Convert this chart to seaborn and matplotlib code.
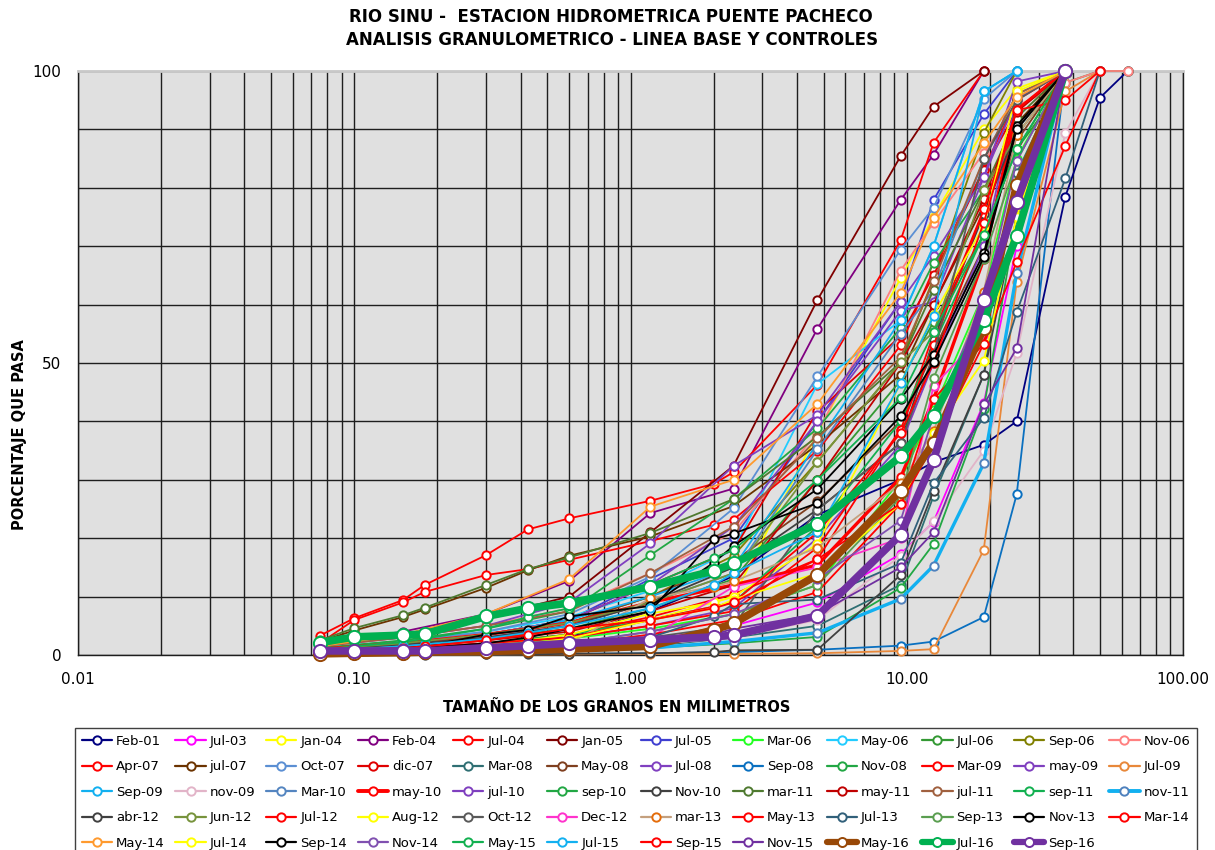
import matplotlib
matplotlib.use("Agg")
import matplotlib.pyplot as plt
from matplotlib.lines import Line2D
from matplotlib.ticker import FixedLocator, FixedFormatter, NullFormatter
import seaborn as sns

# Sieve openings (mm)
SIEVES_MM = [0.075, 0.1, 0.15, 0.18, 0.3, 0.425, 0.6, 1.18, 2.0, 2.36,
             4.75, 9.5, 12.5, 19, 25, 37.5, 50, 63]
N = None

# Percent passing per campaign, one value per sieve (None = sieve not used)
feb_01 = [0.4, N, 0.8, N, 1.5, N, 3.0, 7.5, N, 13.5, 24.0, 30.0, 33.0, 36.0, 40.0, 78.5, 95.4, 100]
jul_03 = [0.2, N, 0.4, N, 0.8, N, 1.2, 2.5, N, 5.0, 9.0, 17.3, 22.8, 43.1, 70.0, 100, N, N]
jan_04 = [0.5, N, 1.0, N, 2.0, N, 3.5, 6.0, N, 10.0, 38.0, 64.5, 75.0, 90.0, 97.0, 100, N, N]
feb_04 = [2.0, N, 4.0, N, 7.0, N, 12.7, 24.3, N, 28.5, 55.9, 77.9, 85.7, 100, N, N, N, N]
jul_04 = [3.3, 6.3, 9.4, 12.0, 17.1, 21.5, 23.4, 26.4, 29.3, 31.3, 46.3, 71.0, 87.7, 100, N, N, N, N]
jan_05 = [1.8, N, 3.5, N, 6.5, N, 10.0, 21.0, N, 32.4, 60.8, 85.4, 93.9, 100, N, N, N, N]
jul_05 = [1.0, N, 2.0, N, 3.5, N, 6.0, 13.0, N, 20.0, 40.0, 60.5, 77.9, 92.6, 100, N, N, N]
mar_06 = [0.5, N, 1.0, N, 1.8, N, 2.8, 4.5, N, 7.0, 12.0, 30.0, 42.0, 62.0, 85.0, 100, N, N]
may_06 = [1.2, N, 2.4, N, 4.0, N, 6.5, 11.0, N, 18.0, 46.4, 57.3, 70.0, 96.5, 100, N, N, N]
jul_06 = [0.8, N, 1.5, N, 2.8, N, 4.5, 8.0, N, 13.0, 30.0, 47.0, 57.0, 72.0, 86.6, 98.0, 100, 100]
sep_06 = [1.0, N, 2.0, N, 3.5, N, 5.5, 10.0, N, 17.0, 33.1, 50.1, 64.5, 89.4, 100, N, N, N]
nov_06 = [1.5, N, 3.0, N, 5.0, N, 8.0, 14.0, N, 21.0, 38.0, 65.8, 74.0, 86.0, 94.0, 98.0, 100, 100]
apr_07 = [2.0, 6.0, 9.0, 10.8, 13.7, 14.7, 16.3, 19.5, 22.3, 23.2, 35.0, 53.0, 66.0, 83.2, 95.0, 100, N, N]
jul_07 = [2.3, 4.2, 6.5, 7.8, 11.5, 14.5, 17.0, 20.3, N, 25.5, 36.0, 48.0, 60.0, 77.0, 91.0, 100, N, N]
oct_07 = [1.0, N, 2.2, N, 4.0, N, 7.0, 13.4, N, 25.1, 47.7, 69.4, 76.6, 95.2, 100, N, N, N]
dic_07 = [0.8, N, 1.8, N, 3.5, N, 6.0, 12.0, N, 18.0, 41.7, 54.6, 65.0, 83.0, 93.3, 100, N, N]
mar_08 = [0.1, N, 0.2, N, 0.4, N, 0.8, 1.5, N, 3.0, 5.0, 12.0, 27.2, 48.0, 82.5, 100, N, N]
may_08 = [1.0, N, 2.0, N, 3.5, N, 5.5, 10.0, N, 16.0, 26.3, 40.0, 52.0, 70.0, 88.0, 100, N, N]
jul_08 = [1.5, N, 3.0, N, 5.0, N, 9.0, 19.1, N, 32.4, 41.1, 60.5, 68.4, 81.8, 95.2, 100, N, N]
sep_08 = [0.0, N, 0.0, N, 0.1, N, 0.2, 0.3, N, 0.5, 0.9, 1.6, 2.3, 6.5, 27.5, 100, N, N]
nov_08 = [1.2, N, 2.5, N, 4.5, N, 7.5, 17.1, N, 26.7, 38.8, 56.0, 67.1, 79.6, 89.0, 100, N, N]
mar_09 = [0.5, N, 1.0, N, 2.0, N, 3.5, 6.5, N, 10.4, 16.4, 38.6, 55.0, 76.3, 93.3, 100, N, N]
may_09 = [1.0, N, 2.0, N, 3.5, N, 6.0, 12.0, N, 22.0, 40.0, 58.9, 60.5, 81.8, 98.2, 100, N, N]
jul_09 = [0.0, N, 0.0, N, 0.1, N, 0.1, 0.2, N, 0.2, 0.3, 0.7, 1.0, 18.0, 63.9, 96.5, 100, N]
sep_09 = [1.0, N, 2.0, N, 3.5, N, 6.0, 10.0, N, 15.0, 36.3, 57.3, 70.0, 96.5, 100, N, N, N]
nov_09 = [0.2, N, 0.4, N, 0.7, N, 1.0, 1.8, N, 3.0, 6.0, 17.0, 22.9, 35.0, 51.7, 89.4, 100, N]
mar_10 = [0.8, N, 1.6, N, 3.0, N, 5.0, 9.0, N, 14.0, 35.2, 55.0, 62.5, 84.9, 96.0, 100, N, N]
may_10 = [1.0, N, 2.0, N, 3.5, N, 5.5, 9.0, N, 12.0, 15.4, 30.4, 43.8, 67.8, 93.3, 100, N, N]
jul_10 = [0.5, N, 1.0, N, 2.0, N, 3.0, 5.0, N, 8.0, 20.0, 36.0, 50.0, 70.0, 95.2, 100, N, N]
sep_10 = [0.1, N, 0.2, N, 0.4, N, 0.7, 1.2, N, 2.0, 3.1, 11.5, 19.0, 42.2, 74.9, 100, N, N]
nov_10 = [0.8, N, 1.8, N, 3.0, N, 5.0, 9.0, N, 15.0, 24.9, 36.3, 54.0, 75.5, 90.0, 100, N, N]
mar_11 = [2.5, 4.6, 6.8, 8.1, 12.0, 14.7, 16.7, 20.9, N, 26.7, 37.4, 50.1, 62.5, 79.6, 92.0, 100, N, N]
may_11 = [0.6, N, 1.2, N, 2.5, N, 4.0, 7.5, N, 12.0, 30.0, 50.0, 60.0, 78.0, 93.0, 100, N, N]
jul_11 = [1.5, N, 3.0, N, 5.0, N, 7.5, 14.0, N, 22.0, 37.1, 51.0, 64.0, 84.9, 96.0, 100, N, N]
sep_11 = [0.5, N, 1.0, N, 2.0, N, 3.5, 6.0, N, 9.0, 22.0, 40.0, 53.0, 72.0, 86.6, 100, N, N]
nov_11 = [0.1, N, 0.2, N, 0.4, N, 0.7, 1.2, N, 2.3, 3.8, 9.6, 15.3, 32.8, 65.4, 100, N, N]
abr_12 = [0.0, 0.0, 0.0, 0.0, 0.1, 0.1, 0.2, 0.3, 0.5, 0.8, 0.9, 13.7, 28.1, 48.0, 75.0, 100, N, N]
jun_12 = [1.0, N, 2.0, N, 3.5, N, 5.5, 9.0, N, 14.0, 33.1, 50.1, 55.3, 79.6, 89.0, 100, N, N]
jul_12 = [0.5, N, 1.0, N, 2.0, N, 3.0, 5.0, N, 7.5, 18.4, 38.6, 53.0, 76.3, 93.3, 100, N, N]
aug_12 = [0.3, 0.5, 0.8, 1.0, 1.8, 2.5, 3.5, 7.1, 9.0, 10.0, 19.0, 46.5, 58.2, 73.5, 96.5, 100, N, N]
oct_12 = [0.3, N, 0.6, N, 1.0, N, 1.5, 3.0, N, 5.0, 24.9, 36.3, 51.4, 84.9, 95.0, 100, N, N]
dec_12 = [0.2, N, 0.4, N, 0.8, N, 1.5, 3.0, N, 11.7, 15.0, 20.0, 46.1, 55.0, 80.0, 100, N, N]
mar_13 = [0.3, N, 0.6, N, 1.2, N, 2.0, 9.7, 11.7, 12.6, 18.4, 29.4, 38.3, 62.2, 89.0, 100, N, N]
may_13 = [0.2, N, 0.5, N, 1.0, N, 1.8, 3.5, N, 6.0, 10.8, 25.9, 43.8, 53.3, 67.3, 87.2, 100, N]
jul_13 = [0.2, N, 0.4, N, 0.8, N, 1.5, 3.0, 6.6, 8.7, 9.5, 15.7, 29.4, 40.6, 58.7, 81.6, 100, N]
sep_13 = [0.3, N, 0.6, N, 1.2, N, 2.0, 4.0, N, 7.0, 12.0, 27.0, 47.4, 67.8, 84.6, 100, N, N]
nov_13 = [0.5, 0.8, 1.2, 1.5, 3.5, 4.3, 6.6, 8.4, 15.8, 18.7, 28.4, 43.8, 51.4, 68.8, 90.6, 100, N, N]
mar_14 = [0.5, N, 1.0, N, 2.0, N, 3.0, 6.0, N, 9.0, 21.0, 38.0, 50.0, 74.0, 93.3, 95.0, 100, N]
may_14 = [1.5, N, 3.5, N, 7.0, N, 13.0, 25.4, N, 30.0, 43.0, 62.0, 74.9, 87.6, 95.5, 100, N, N]
jul_14 = [0.3, 0.5, 0.8, 1.0, 1.5, 2.0, 2.8, 6.0, 8.0, 9.5, 14.0, 25.9, 38.0, 50.4, 75.0, 100, N, N]
sep_14 = [0.5, 0.8, 1.0, 1.2, 2.0, 3.0, 4.5, 7.5, 19.8, 20.8, 26.0, 40.9, 50.1, 68.1, 90.0, 100, N, N]
nov_14 = [0.3, N, 0.6, N, 1.2, N, 2.0, 4.0, N, 7.0, 13.0, 23.0, 41.0, 60.2, 84.6, 100, N, N]
may_15 = [0.8, 1.5, 2.2, 2.8, 4.5, 6.5, 8.0, 12.0, 16.6, 18.0, 30.0, 44.0, 55.3, 72.0, 86.6, 100, N, N]
jul_15 = [0.6, 1.0, 1.5, 1.8, 2.8, 3.8, 5.0, 8.0, 12.0, 14.0, 21.1, 46.5, 58.0, 96.5, 100, N, N, N]
sep_15 = [0.5, 0.8, 1.2, 1.5, 2.5, 3.5, 4.5, 6.0, 8.0, 9.0, 16.4, 25.9, 36.0, 53.3, 80.0, 100, N, N]
nov_15 = [0.2, 0.3, 0.4, 0.5, 0.8, 1.0, 1.4, 2.5, 3.5, 4.5, 7.0, 15.0, 21.0, 42.9, 52.5, 100, N, N]
may_16 = [0.2, 0.3, 0.4, 0.5, 0.6, 0.8, 1.0, 1.5, 4.3, 5.4, 13.7, 28.1, 36.3, 56.0, 80.5, 100, N, N]
jul_16 = [2.1, 3.1, 3.4, 3.6, 6.6, 8.0, 8.9, 11.7, 14.4, 15.7, 22.5, 34.0, 40.9, 57.4, 71.7, 100, N, N]
sep_16 = [0.7, 0.7, 0.7, 0.7, 1.25, 1.6, 2.0, 2.6, 3.1, 3.4, 6.7, 20.6, 33.4, 60.8, 77.6, 100, N, N]

# (label, values, line colour, marker edge colour, style)
CAMPAIGNS = [
    ("Feb-01", feb_01, "#000080", "#000080", "thin"),
    ("Jul-03", jul_03, "#FF00FF", "#FF00FF", "thin"),
    ("Jan-04", jan_04, "#FFFF00", "#FFFF00", "thin"),
    ("Feb-04", feb_04, "#800080", "#800080", "thin"),
    ("Jul-04", jul_04, "#FF0000", "#FF0000", "thin"),
    ("Jan-05", jan_05, "#800000", "#800000", "thin"),
    ("Jul-05", jul_05, "#3F3FD0", "#3F3FD0", "thin"),
    ("Mar-06", mar_06, "#22FF22", "#22FF22", "thin"),
    ("May-06", may_06, "#22CCFF", "#22CCFF", "thin"),
    ("Jul-06", jul_06, "#339933", "#339933", "thin"),
    ("Sep-06", sep_06, "#808000", "#808000", "thin"),
    ("Nov-06", nov_06, "#FF8080", "#FF8080", "thin"),
    ("Apr-07", apr_07, "#FF0000", "#FF0000", "thin"),
    ("jul-07", jul_07, "#6B3300", "#6B3300", "thin"),
    ("Oct-07", oct_07, "#5B8FD3", "#5B8FD3", "thin"),
    ("dic-07", dic_07, "#E00000", "#E00000", "thin"),
    ("Mar-08", mar_08, "#2F6F73", "#2F6F73", "thin"),
    ("May-08", may_08, "#7F3F1F", "#7F3F1F", "thin"),
    ("Jul-08", jul_08, "#8040C0", "#8040C0", "thin"),
    ("Sep-08", sep_08, "#0A70C0", "#0A70C0", "thin"),
    ("Nov-08", nov_08, "#22A744", "#22A744", "thin"),
    ("Mar-09", mar_09, "#FF0000", "#FF0000", "thin"),
    ("may-09", may_09, "#7F3FBF", "#7F3FBF", "thin"),
    ("Jul-09", jul_09, "#E8883A", "#E8883A", "thin"),
    ("Sep-09", sep_09, "#12B0F0", "#12B0F0", "thin"),
    ("nov-09", nov_09, "#E2B4C8", "#E2B4C8", "thin"),
    ("Mar-10", mar_10, "#5485C0", "#5485C0", "thin"),
    ("may-10", may_10, "#FF0000", "#FF0000", "mid"),
    ("jul-10", jul_10, "#7F3FBF", "#7F3FBF", "thin"),
    ("sep-10", sep_10, "#22A744", "#22A744", "thin"),
    ("Nov-10", nov_10, "#404040", "#404040", "thin"),
    ("mar-11", mar_11, "#4F7A30", "#4F7A30", "thin"),
    ("may-11", may_11, "#C00000", "#C00000", "thin"),
    ("jul-11", jul_11, "#A0603F", "#A0603F", "thin"),
    ("sep-11", sep_11, "#12B050", "#12B050", "thin"),
    ("nov-11", nov_11, "#12B0F0", "#4F81BD", "mid"),
    ("abr-12", abr_12, "#404040", "#404040", "thin"),
    ("Jun-12", jun_12, "#77933C", "#77933C", "thin"),
    ("Jul-12", jul_12, "#FF0000", "#FF0000", "thin"),
    ("Aug-12", aug_12, "#FFFF00", "#FFFF00", "thin"),
    ("Oct-12", oct_12, "#595959", "#595959", "thin"),
    ("Dec-12", dec_12, "#FF33CC", "#FF33CC", "thin"),
    ("mar-13", mar_13, "#C4A07E", "#E46C0A", "thin"),
    ("May-13", may_13, "#FF0000", "#FF0000", "thin"),
    ("Jul-13", jul_13, "#31607A", "#31607A", "thin"),
    ("Sep-13", sep_13, "#5A9E50", "#5A9E50", "thin"),
    ("Nov-13", nov_13, "#000000", "#000000", "thin"),
    ("Mar-14", mar_14, "#FF0000", "#FF0000", "thin"),
    ("May-14", may_14, "#FF9A2E", "#FF9A2E", "thin"),
    ("Jul-14", jul_14, "#FFFF00", "#FFFF00", "thin"),
    ("Sep-14", sep_14, "#000000", "#000000", "thin"),
    ("Nov-14", nov_14, "#8050B0", "#8050B0", "thin"),
    ("May-15", may_15, "#12B050", "#12B050", "thin"),
    ("Jul-15", jul_15, "#12B0F0", "#12B0F0", "thin"),
    ("Sep-15", sep_15, "#FF0000", "#FF0000", "thin"),
    ("Nov-15", nov_15, "#7030A0", "#7030A0", "thin"),
    ("May-16", may_16, "#984807", "#984807", "thick"),
    ("Jul-16", jul_16, "#00B050", "#00B050", "thick"),
    ("Sep-16", sep_16, "#7030A0", "#7030A0", "thick"),
]

STYLE = {
    "thin": dict(lw=1.3, ms=6.0, mew=1.4, legend_lw=1.6, legend_ms=6.0),
    "mid": dict(lw=2.4, ms=6.0, mew=1.4, legend_lw=2.8, legend_ms=6.0),
    "thick": dict(lw=5.5, ms=9.5, mew=1.4, legend_lw=4.5, legend_ms=6.5),
}

sns.set_theme(style="white")
plt.rcParams["font.family"] = ["DejaVu Sans"]
plt.rcParams["text.color"] = "black"
plt.rcParams["axes.labelcolor"] = "black"
plt.rcParams["xtick.color"] = "black"
plt.rcParams["ytick.color"] = "black"

W, H = 1215, 850
fig = plt.figure(figsize=(W / 100, H / 100), dpi=100)
left, right, top, bottom = 78, 1183, 71, 655
ax = fig.add_axes([left / W, 1 - bottom / H, (right - left) / W, (bottom - top) / H])
ax.set_facecolor("#E0E0E0")

handles = []
for z, (label, values, color, edge, kind) in enumerate(CAMPAIGNS):
    xs = [s for s, v in zip(SIEVES_MM, values) if v is not None]
    ys = [v for v in values if v is not None]
    st = STYLE[kind]
    sns.lineplot(x=xs, y=ys, ax=ax, sort=False, legend=False, estimator=None,
                 color=color, linewidth=st["lw"], marker="o",
                 markersize=st["ms"], markerfacecolor="white",
                 markeredgecolor=edge, markeredgewidth=st["mew"],
                 clip_on=False, zorder=3 + z * 0.01)
    handles.append(Line2D([], [], color=color, lw=st["legend_lw"], marker="o",
                          markersize=st["legend_ms"], markerfacecolor="white",
                          markeredgecolor=edge, markeredgewidth=1.4))

ax.set_xscale("log")
ax.set_xlim(0.01, 100)
ax.set_ylim(0, 100)
ax.xaxis.set_major_locator(FixedLocator([0.01, 0.1, 1, 10, 100]))
ax.xaxis.set_major_formatter(FixedFormatter(["0.01", "0.10", "1.00", "10.00", "100.00"]))
ax.xaxis.set_minor_locator(FixedLocator([m * 10.0 ** e for e in range(-2, 2) for m in range(2, 10)]))
ax.xaxis.set_minor_formatter(NullFormatter())
ax.yaxis.set_major_locator(FixedLocator([0, 50, 100]))
ax.yaxis.set_minor_locator(FixedLocator(list(range(0, 101, 10))))
ax.grid(True, which="both", color="#1E1E1E", linewidth=1.0)
ax.set_axisbelow(True)
ax.tick_params(which="both", length=0)
ax.tick_params(axis="x", which="major", labelsize=11, pad=12, labelcolor="black")
ax.tick_params(axis="y", which="major", labelsize=11, pad=12, labelcolor="black")
for side in ("left", "bottom", "right"):
    ax.spines[side].set_color("#1E1E1E")
    ax.spines[side].set_linewidth(1.0)
ax.spines["top"].set_color("#C8C8C8")
ax.spines["top"].set_linewidth(2.0)
ax.set_xlabel("")
ax.set_ylabel("")

fig.text(611 / W, 1 - 17 / H, "RIO SINU -  ESTACION HIDROMETRICA PUENTE PACHECO",
         ha="center", va="center", fontsize=12, fontweight="bold", color="black")
fig.text(612 / W, 1 - 40 / H, "ANALISIS GRANULOMETRICO - LINEA BASE Y CONTROLES",
         ha="center", va="center", fontsize=12, fontweight="bold", color="black")
fig.text(617 / W, 1 - 707 / H, "TAMAÑO DE LOS GRANOS EN MILIMETROS",
         ha="center", va="center", fontsize=10.5, fontweight="bold", color="black")
fig.text(20 / W, 1 - 435 / H, "PORCENTAJE QUE PASA", rotation=90,
         ha="center", va="center", fontsize=10.5, fontweight="bold", color="black")

# Legend laid out row by row, 12 entries per row
ncol = 12
labels = [c[0] for c in CAMPAIGNS]
n = len(labels)
order = []
for col in range(ncol):
    row = 0
    while row * ncol + col < n:
        order.append(row * ncol + col)
        row += 1
leg = fig.legend([handles[i] for i in order], [labels[i] for i in order],
                 loc="upper left", bbox_to_anchor=(75 / W, 0, (1197 - 75) / W, 1 - 728 / H),
                 mode="expand", ncol=ncol, fontsize=9.5, frameon=True, fancybox=False,
                 edgecolor="#404040", framealpha=1, handlelength=2.3, handletextpad=0.3,
                 borderaxespad=0, labelspacing=0.95, borderpad=0.5)
leg.get_frame().set_linewidth(1.0)
for t in leg.get_texts():
    t.set_color("black")

fig.savefig("out.png", dpi=100)
